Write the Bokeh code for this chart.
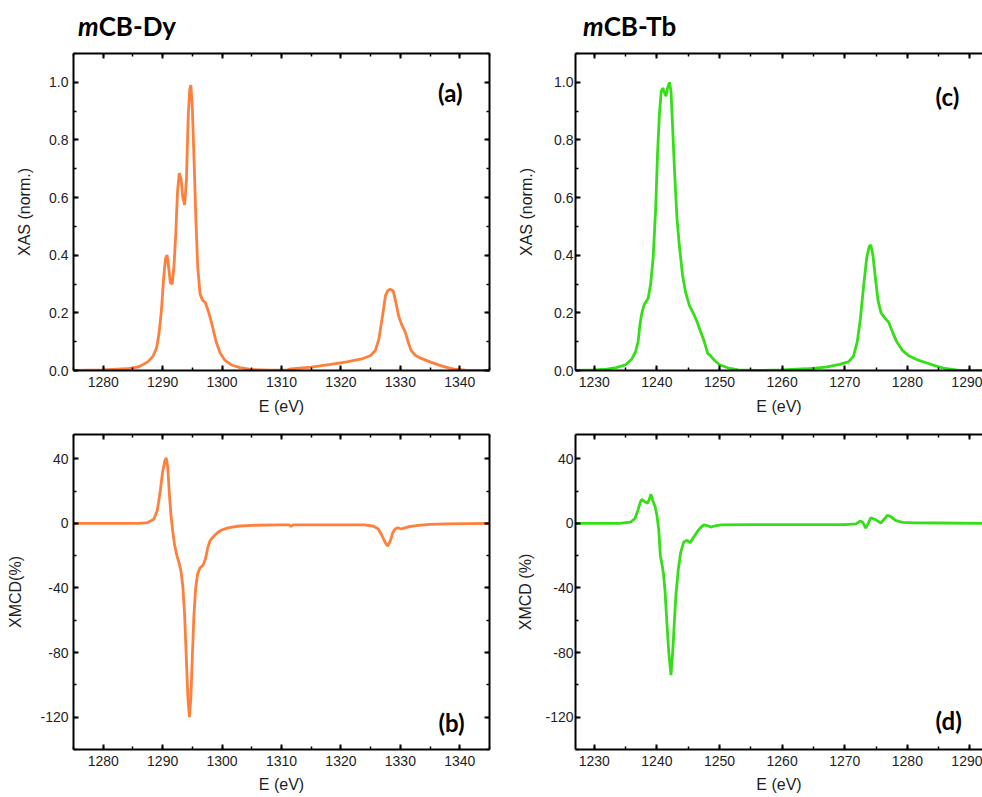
from bokeh.plotting import figure
from bokeh.models import (LinearAxis, SingleIntervalTicker, NumeralTickFormatter,
                          Label, Div, ColumnDataSource, CustomLabelingPolicy)
from bokeh.layouts import column, row
from bokeh.embed import file_html
from bokeh.resources import INLINE

# ---------------- data ----------------
dy_xas_E = [1275, 1280, 1284, 1286, 1287.5, 1288.4, 1289.0, 1289.4, 1289.8, 1290.2, 1290.5,
            1290.75, 1291.0, 1291.3, 1291.6, 1291.9, 1292.2, 1292.5, 1292.8, 1293.1, 1293.4,
            1293.7, 1294.0, 1294.3, 1294.55, 1294.75, 1295.0, 1295.3, 1295.6, 1295.9, 1296.3,
            1296.7, 1297.2, 1297.7, 1298.3, 1299.0, 1299.7, 1300.5, 1301.5, 1303, 1305, 1308,
            1311, 1311.6, 1315, 1318, 1321, 1323.5, 1325, 1325.8, 1326.4, 1327.0, 1327.5,
            1327.9, 1328.3, 1328.8, 1329.2, 1329.7, 1330.2, 1330.8, 1331.3, 1331.8, 1332.5,
            1333.5, 1335, 1337, 1339, 1341, 1345]
dy_xas = [0.0, 0.002, 0.006, 0.013, 0.03, 0.05, 0.08, 0.13, 0.21, 0.33, 0.39,
          0.40, 0.36, 0.305, 0.30, 0.36, 0.47, 0.62, 0.685, 0.665, 0.60,
          0.575, 0.66, 0.88, 0.975, 0.99, 0.91, 0.72, 0.52, 0.36, 0.265,
          0.245, 0.235, 0.205, 0.16, 0.10, 0.06, 0.035, 0.02, 0.01, 0.003, 0.001,
          0.002, 0.006, 0.012, 0.02, 0.03, 0.04, 0.052, 0.07, 0.11, 0.19, 0.26,
          0.278, 0.282, 0.276, 0.24, 0.19, 0.16, 0.135, 0.10, 0.07, 0.053,
          0.042, 0.03, 0.015, 0.005, 0.001, 0.0]

dy_xmcd_E = [1275, 1286, 1287.5, 1288.5, 1289.1, 1289.6, 1290.0, 1290.35, 1290.6, 1290.85,
             1291.1, 1291.4, 1291.7, 1292.0, 1292.4, 1292.8, 1293.1, 1293.4, 1293.7, 1294.0,
             1294.25, 1294.5, 1294.75, 1295.0, 1295.25, 1295.55, 1295.9, 1296.3, 1296.8,
             1297.2, 1297.6, 1298.0, 1298.6, 1299.3, 1300, 1301, 1302.5, 1305, 1310, 1311.3,
             1311.6, 1311.9, 1316, 1320, 1324, 1325.5, 1326.3, 1326.9, 1327.4, 1327.85,
             1328.3, 1328.7, 1329.1, 1329.6, 1330.1, 1330.6, 1331.5, 1333, 1335, 1338, 1345]
dy_xmcd = [0, 0, 0.5, 2.5, 8, 20, 32, 38.5, 40.5, 35,
           20, 5, -5, -13, -20, -25, -30, -39, -57, -85,
           -108, -120, -108, -82, -58, -40, -31, -27.5, -26,
           -22, -15, -10.5, -8, -5.5, -4, -2.8, -1.8, -1.2, -1, -1,
           -2, -1, -1, -1, -1, -1.8, -3.5, -7.5, -11.5, -14,
           -11, -6, -3.5, -2.7, -3.5, -3, -2, -1.3, -0.6, -0.3, 0]

tb_xas_E = [1227, 1230, 1232, 1233.5, 1235, 1236.0, 1236.6, 1237.0, 1237.3, 1237.6, 1238.0,
            1238.6, 1239.0, 1239.4, 1239.8, 1240.1, 1240.4, 1240.7, 1240.95, 1241.2, 1241.45,
            1241.7, 1242.0, 1242.25, 1242.5, 1242.8, 1243.2, 1243.6, 1244.1, 1244.6, 1245.2,
            1245.9, 1246.4, 1246.9, 1247.5, 1247.9, 1248.1, 1248.6, 1249.3, 1250, 1251.5,
            1253, 1256, 1260, 1264, 1267, 1269.2, 1270.6, 1271.4, 1272.0, 1272.5, 1273.0,
            1273.5, 1273.9, 1274.15, 1274.5, 1274.9, 1275.3, 1275.8, 1276.4, 1277.0, 1277.6,
            1278.3, 1279.2, 1280.3, 1281.5, 1283, 1284.5, 1286, 1288, 1292]
tb_xas = [0.0, 0.002, 0.005, 0.01, 0.02, 0.04, 0.065, 0.10, 0.16, 0.20, 0.23,
          0.25, 0.30, 0.39, 0.56, 0.75, 0.89, 0.97, 0.98, 0.965, 0.952,
          0.98, 1.0, 0.97, 0.85, 0.70, 0.53, 0.43, 0.33, 0.27, 0.225,
          0.195, 0.17, 0.14, 0.105, 0.075, 0.06, 0.05, 0.033, 0.02, 0.008,
          0.002, 0.0, 0.002, 0.006, 0.012, 0.021, 0.03, 0.05, 0.10, 0.18, 0.29,
          0.39, 0.43, 0.436, 0.40, 0.32, 0.245, 0.20, 0.182, 0.168, 0.135,
          0.10, 0.07, 0.05, 0.038, 0.027, 0.016, 0.007, 0.001, 0.0]

tb_xmcd_E = [1227, 1234, 1235.8, 1236.5, 1237.0, 1237.4, 1237.6, 1238.0, 1238.5, 1238.8,
             1239.05, 1239.35, 1239.7, 1240.0, 1240.3, 1240.55, 1240.8, 1241.05, 1241.3,
             1241.6, 1241.9, 1242.25, 1242.55, 1242.8, 1243.05, 1243.4, 1243.8, 1244.3,
             1244.8, 1245.3, 1245.8, 1246.4, 1247.0, 1247.5, 1248.1, 1248.6, 1249.3, 1250.2,
             1255, 1260, 1265, 1270, 1271.8, 1272.5, 1272.9, 1273.35, 1273.8, 1274.15,
             1274.9, 1275.75, 1276.3, 1276.8, 1277.3, 1278.1, 1279.2, 1281, 1285, 1292]
tb_xmcd = [0, 0, 0.8, 3, 8.5, 13.5, 14.8, 13.5, 12.5, 15,
           18, 14, 10.5, 5, -4, -20, -25, -31, -42,
           -62, -80, -94, -78, -60, -44, -29, -18, -11.5,
           -10.5, -12, -9, -5.5, -2.5, -1, -1.5, -2.3, -1.5, -1,
           -0.8, -0.8, -0.8, -0.8, -0.3, 1.5, 0.5, -3, 0.3, 3.5,
           2.3, 0.2, 2.5, 5, 4.3, 1.8, 0.6, 0.3, 0.2, 0]

titles = ["mCB-Dy", "mCB-Tb"]
panel_tags = ["(a)", "(b)", "(c)", "(d)"]

ORANGE = "#FF7F3C"
GREEN = "#35DF17"
TXT = "#1e1e1e"
TICK_FONT = "Liberation Sans"


def style_axis(ax, show_labels=True, label_standoff=5):
    ax.axis_line_width = 2
    ax.axis_line_color = "black"
    ax.major_tick_in = 5
    ax.major_tick_out = 0
    ax.minor_tick_in = 3
    ax.minor_tick_out = 0
    ax.major_tick_line_width = 2
    ax.minor_tick_line_width = 1.5
    ax.major_tick_line_color = "black"
    ax.minor_tick_line_color = "black"
    ax.major_label_text_font = TICK_FONT
    ax.major_label_text_color = TXT
    ax.axis_label_text_font = TICK_FONT
    ax.axis_label_text_font_style = "normal"
    ax.axis_label_text_font_size = "16px"
    ax.axis_label_text_color = TXT
    if show_labels:
        ax.major_label_text_font_size = "14px"
        ax.major_label_standoff = label_standoff
    else:
        # mirror axis: ticks only, no labels drawn at all
        ax.major_label_text_font_size = "1px"
        ax.major_label_standoff = 0
        ax.major_label_policy = CustomLabelingPolicy(code="return new Set()")


def make_panel(E, Y, color, xr, yr, xint, yint, yfmt, ylabel, tag, tagpos,
               width, height, bl, br, bt, bb, mirror_right, lab_stand, ylab_stand,
               xlab_stand):
    p = figure(width=width, height=height, x_range=xr, y_range=yr,
               output_backend="svg", toolbar_location=None,
               min_border_left=bl, min_border_right=br, min_border_top=bt,
               min_border_bottom=bb, x_axis_label="E (eV)", y_axis_label=ylabel)
    p.outline_line_color = None
    p.grid.visible = False
    p.background_fill_color = "white"
    p.border_fill_color = "white"
    xt = SingleIntervalTicker(interval=xint, num_minor_ticks=2)
    yt = SingleIntervalTicker(interval=yint, num_minor_ticks=2)
    p.xaxis.ticker = xt
    p.yaxis.ticker = yt
    p.xaxis.formatter = NumeralTickFormatter(format="0")
    p.yaxis.formatter = NumeralTickFormatter(format=yfmt)
    for ax in p.xaxis:
        style_axis(ax, True, 6)
        ax.axis_label_standoff = xlab_stand
    for ax in p.yaxis:
        style_axis(ax, True, lab_stand)
        ax.axis_label_standoff = ylab_stand
    top = LinearAxis(ticker=xt)
    style_axis(top, False)
    p.add_layout(top, "above")
    if mirror_right:
        right = LinearAxis(ticker=yt)
        style_axis(right, False)
        p.add_layout(right, "right")
    src = ColumnDataSource(dict(E=E, Y=Y))
    p.line("E", "Y", source=src, line_color=color, line_width=2.8)
    p.add_layout(Label(x=tagpos[0], y=tagpos[1], text=tag, text_font="Lato",
                       text_font_style="bold", text_font_size="24px",
                       text_color="black", text_align="center",
                       text_baseline="middle"))
    return p


LW, RW = 499, 483
pa = make_panel(dy_xas_E, dy_xas, ORANGE, (1275, 1345), (0, 1.1), 10, 0.2, "0.0",
                "XAS (norm.)", panel_tags[0], (1338.4, 0.965),
                LW, 382, 73, 10, 5, 60, True, 5, 13, 8)
pb = make_panel(dy_xmcd_E, dy_xmcd, ORANGE, (1275, 1345), (-140, 55), 10, 40, "0",
                "XMCD(%)", panel_tags[1], (1338.6, -123),
                LW, 367, 73, 10, 3, 48, True, 5, 13, 7)
pc = make_panel(tb_xas_E, tb_xas, GREEN, (1227, 1292), (0, 1.1), 10, 0.2, "0.0",
                "XAS (norm.)", panel_tags[2], (1286.4, 0.95),
                RW, 382, 76, 0, 5, 60, False, 2, 16, 8)
pd = make_panel(tb_xmcd_E, tb_xmcd, GREEN, (1227, 1292), (-140, 55), 10, 40, "0",
                "XMCD (%)", panel_tags[3], (1286.6, -122),
                RW, 367, 76, 0, 3, 48, False, 2, 8, 7)


def title_div(t, width, pad_left):
    html = ('<div style="font-family:Lato; font-weight:bold; font-size:26px; '
            'line-height:26px; color:#000; padding-left:%dpx; padding-top:13px;">'
            '<i>%s</i>%s</div>' % (pad_left, t[0], t[1:]))
    return Div(text=html, width=width, height=48, margin=0)


ta = title_div(titles[0], LW, 78)
tc = title_div(titles[1], RW, 84)

layout = column(row(ta, tc, spacing=0), row(pa, pc, spacing=0), row(pb, pd, spacing=0),
                spacing=0)

open("out.html", "w").write(file_html(layout, INLINE))
